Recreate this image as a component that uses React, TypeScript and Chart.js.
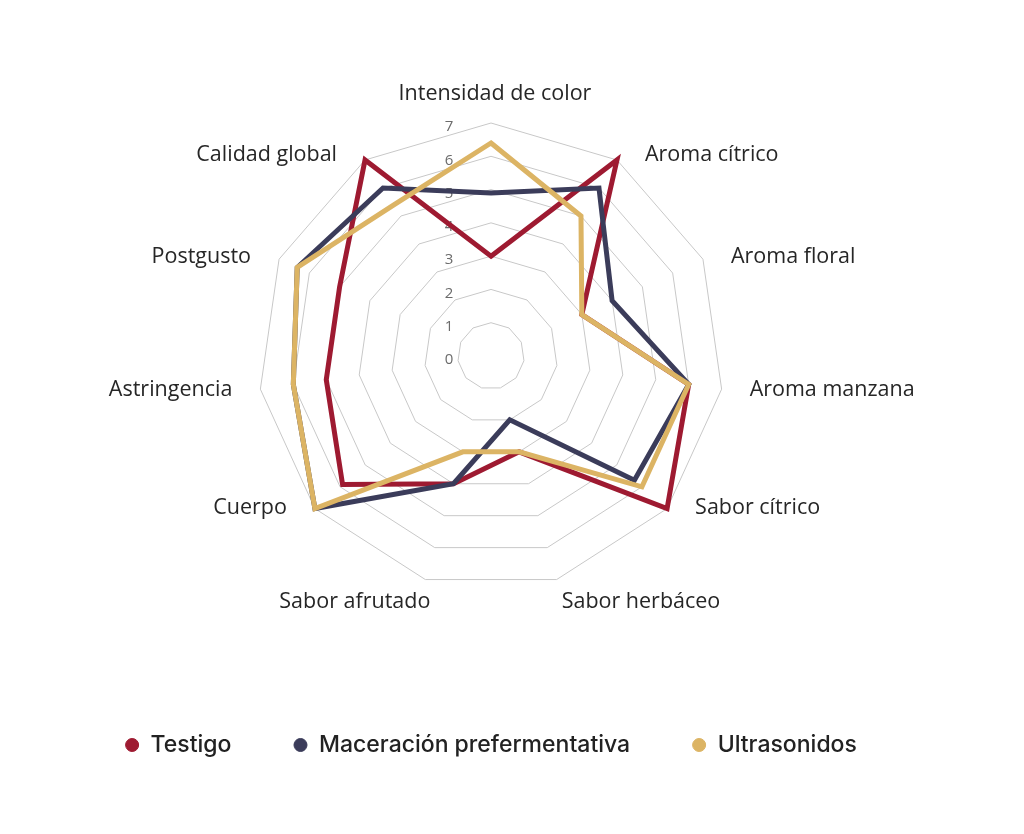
import { useEffect, useRef } from 'react';
import { Chart, registerables, type ChartConfiguration, type Plugin } from 'chart.js';

Chart.register(...registerables);

const LABELS = [
  'Intensidad de color',
  'Aroma cítrico',
  'Aroma floral',
  'Aroma manzana',
  'Sabor cítrico',
  'Sabor herbáceo',
  'Sabor afrutado',
  'Cuerpo',
  'Astringencia',
  'Postgusto',
  'Calidad global',
];

const TESTIGO = [3.0, 7.0, 3.0, 6.0, 7.0, 3.0, 4.0, 5.9, 5.0, 5.0, 7.0];
const MACERACION = [4.9, 6.0, 4.0, 6.0, 5.7, 2.0, 4.0, 7.0, 6.0, 6.4, 6.0];
const ULTRASONIDOS = [6.4, 5.0, 3.0, 6.0, 6.0, 3.0, 3.0, 7.0, 6.0, 6.4, 5.4];

const TICKS = [0, 1, 2, 3, 4, 5, 6, 7];

const RED = '#9e1a31';
const NAVY = '#3b3c5a';
const GOLD = '#dcb464';

// tick labels sit to the left of the vertical axis, like the original
const tickLabels: Plugin<'radar'> = {
  id: 'tickLabels',
  beforeDatasetsDraw(chart) {
    const scale = chart.scales.r as any;
    const ctx = chart.ctx;
    ctx.save();
    ctx.font = '15px "Open Sans"';
    ctx.fillStyle = '#6b6b6b';
    ctx.textAlign = 'center';
    ctx.textBaseline = 'middle';
    for (const t of TICKS) {
      const d = scale.getDistanceFromCenterForValue(t);
      ctx.fillText(String(t), scale.xCenter - 42, scale.yCenter - d + 4);
    }
    ctx.restore();
  },
};

// category labels placed Excel-style: beside the outer vertex, not along the spoke
const categoryLabels: Plugin<'radar'> = {
  id: 'categoryLabels',
  afterDatasetsDraw(chart) {
    const scale = chart.scales.r as any;
    const ctx = chart.ctx;
    const outer = scale.getDistanceFromCenterForValue(scale.max);
    ctx.save();
    ctx.font = '21.5px "Open Sans"';
    ctx.fillStyle = '#262626';
    ctx.textBaseline = 'middle';
    LABELS.forEach((label, i) => {
      const p = scale.getPointPosition(i, outer);
      const a = scale.getIndexAngle(i);
      const s = Math.sin(a);
      const c = Math.cos(a);
      let x: number, y: number;
      let align: CanvasTextAlign;
      if (Math.abs(s) < 0.05) {
        x = p.x + 4; y = p.y - 31; align = 'center';
      } else if (c < -0.9) {
        x = p.x + 5; y = p.y + 21; align = s > 0 ? 'left' : 'right';
      } else {
        x = p.x + (s > 0 ? 28 : -28);
        y = p.y + (c > 0 ? -8.3 * c : 3 * c);
        align = s > 0 ? 'left' : 'right';
      }
      ctx.textAlign = align;
      ctx.fillText(label, x, y + 1.5);
    });
    ctx.restore();
  },
};

export default function App() {
  const canvasRef = useRef<HTMLCanvasElement>(null);
  const chartRef = useRef<Chart | null>(null);

  useEffect(() => {
    document.body.style.margin = '0';
    if (!canvasRef.current) return;
    chartRef.current?.destroy();

    const config: ChartConfiguration<'radar'> = {
      type: 'radar',
      data: {
        labels: LABELS,
        datasets: [
          { label: 'Testigo', data: TESTIGO, borderColor: RED, backgroundColor: RED, order: 3 },
          { label: 'Maceración prefermentativa', data: MACERACION, borderColor: NAVY, backgroundColor: NAVY, order: 2 },
          { label: 'Ultrasonidos', data: ULTRASONIDOS, borderColor: GOLD, backgroundColor: GOLD, order: 1 },
        ],
      },
      options: {
        animation: false,
        responsive: false,
        maintainAspectRatio: false,
        elements: {
          line: { borderWidth: 5, fill: false, tension: 0 },
          point: { radius: 0, hoverRadius: 0 },
        },
        layout: { padding: { top: 123, right: 42, bottom: 67.5, left: 0 } },
        plugins: {
          tooltip: { enabled: false },
          legend: {
            position: 'bottom',
            title: { display: true, text: '', font: { size: 10 }, padding: { top: 70.5, bottom: 0 } },
            labels: {
              usePointStyle: true,
              pointStyle: 'circle',
              boxWidth: 14,
              boxHeight: 9.2,
              padding: 62,
              color: '#222',
              font: { family: 'Inter', size: 23, weight: 500 },
              sort: (a, b) => (a.datasetIndex ?? 0) - (b.datasetIndex ?? 0),
            },
          },
        },
        scales: {
          r: {
            min: 0,
            max: 7,
            ticks: { stepSize: 1, display: false },
            grid: { color: '#c8c8c8', lineWidth: 1, circular: false },
            angleLines: { display: false },
            pointLabels: { display: false },
          },
        },
      },
      plugins: [tickLabels, categoryLabels],
    };
    chartRef.current = new Chart(canvasRef.current, config);

    return () => { chartRef.current?.destroy(); chartRef.current = null; };
  }, []);

  return (
    <div style={{ width: 1024, height: 834, background: '#fff' }}>
      <canvas ref={canvasRef} width={1024} height={834} style={{ width: 1024, height: 834 }} />
    </div>
  );
}
